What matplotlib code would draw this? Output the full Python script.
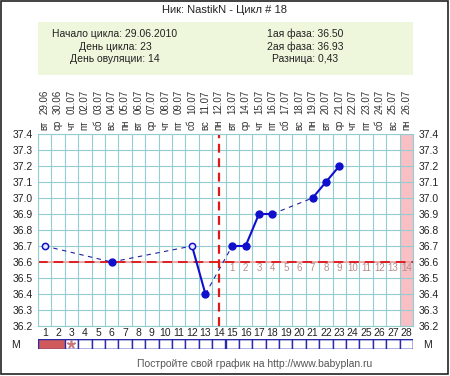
import matplotlib
matplotlib.use("Agg")
import matplotlib.pyplot as plt
from matplotlib.transforms import blended_transform_factory
from matplotlib.patches import Rectangle

plt.rcParams['font.family'] = ['Liberation Sans', 'DejaVu Sans']

title = "Ник: NastikN - Цикл # 18"
info_left = ["Начало цикла: 29.06.2010", "День цикла: 23", "День овуляции: 14"]
info_right = ["1ая фаза: 36.50", "2ая фаза: 36.93", "Разница: 0,43"]
footer = "Постройте свой график на http://www.babyplan.ru"

days = list(range(1, 29))
dates = ["29.06", "30.06", "01.07", "02.07", "03.07", "04.07", "05.07", "06.07",
         "07.07", "08.07", "09.07", "10.07", "11.07", "12.07", "13.07", "14.07",
         "15.07", "16.07", "17.07", "18.07", "19.07", "20.07", "21.07", "22.07",
         "23.07", "24.07", "25.07", "26.07"]
weekdays = ["вт", "ср", "чт", "пт", "сб", "вс", "пн"] * 4

temp_days = [1, 6, 12, 13, 15, 16, 17, 18, 21, 22, 23]
temps = [36.7, 36.6, 36.7, 36.4, 36.7, 36.7, 36.9, 36.9, 37.0, 37.1, 37.2]
open_days = [1, 12]

coverline = 36.6
ovulation_day = 14
highlight_day = 28
post_ov_days = list(range(15, 29))
post_ov_labels = [str(i) for i in range(1, 15)]

mens = [2, 2, 1] + [0] * 25  # 2 = bleeding, 1 = spotting (*), 0 = none

W, H = 450, 376
fig = plt.figure(figsize=(W / 100, H / 100), dpi=100)
fig.patch.set_facecolor('white')

def fx(px):
    return px / W

def fy(py):
    return 1 - py / H

# border
fig.add_artist(Rectangle((0.002, 0.004), 0.993, 0.994, transform=fig.transFigure,
                         fill=False, edgecolor='#222222', lw=1.2))

# title
fig.text(0.5, fy(10), title, ha='center', va='center', fontsize=8, color='#222222')

# info box
fig.add_artist(Rectangle((fx(38), fy(75)), fx(413) - fx(38), fy(22) - fy(75),
                         transform=fig.transFigure, facecolor='#eef6dc', edgecolor='none'))
for i, (l, r) in enumerate(zip(info_left, info_right)):
    yy = fy(34 + i * 12.5)
    fig.text(fx(115), yy, l, ha='center', va='center', fontsize=7.5, color='#222222')
    fig.text(fx(305), yy, r, ha='center', va='center', fontsize=7.5, color='#222222')

# main axes
L, R, T, B = 38, 413, 134, 326
ax = fig.add_axes([fx(L), fy(B), fx(R) - fx(L), fy(T) - fy(B)])
ax.set_xlim(0.5, 28.5)
ax.set_ylim(36.2, 37.4)
grid_c = '#94ccd4'
for d in range(0, 29):
    ax.axvline(d + 0.5, color=grid_c, lw=0.8, zorder=1)
yt = [round(36.2 + 0.1 * i, 1) for i in range(13)]
for y in yt:
    ax.axhline(y, color=grid_c, lw=0.8, zorder=1)
for s in ax.spines.values():
    s.set_color(grid_c)
ax.axvspan(highlight_day - 0.5, highlight_day + 0.5, color='#f8c0c4', zorder=0.5, lw=0)

ax.set_xticks([])
ax.set_yticks(yt)
ax.set_yticklabels([f"{y:.1f}" for y in yt], fontsize=7.5, color='#222222')
ax.tick_params(axis='y', length=0, pad=4, labelright=True, labelleft=True)

# coverline
ax.axhline(coverline, color='#f2a0a0', lw=1.2, zorder=2)
ax.axhline(coverline, color='#dd2020', lw=1.4, ls=(0, (5, 3)), zorder=2.1)
# ovulation line
ax.axvline(ovulation_day, color='#e01818', lw=1.6, ls=(0, (4, 2.5)), zorder=2.2)

# post ovulation numbers
for d, lab in zip(post_ov_days, post_ov_labels):
    ax.text(d, 36.563, lab, ha='center', va='center', fontsize=7, color='#b88a8a', zorder=3)

# temperature lines
blue = '#1010cc'
for (d0, t0), (d1, t1) in zip(zip(temp_days[:-1], temps[:-1]), zip(temp_days[1:], temps[1:])):
    if d1 - d0 == 1:
        ax.plot([d0, d1], [t0, t1], color=blue, lw=1.5, zorder=4)
    else:
        ax.plot([d0, d1], [t0, t1], color='#2020a0', lw=0.8, ls=(0, (4, 4)), zorder=4)
for d, t in zip(temp_days, temps):
    if d in open_days:
        ax.plot(d, t, 'o', ms=4.5, mfc='#e8e8ff', mec=blue, mew=1.1, zorder=5)
    else:
        ax.plot(d, t, 'o', ms=5, mfc=blue, mec=blue, zorder=5)

trans = blended_transform_factory(ax.transData, fig.transFigure)
for d, ds, wd in zip(days, dates, weekdays):
    ax.text(d, fy(114), ds, rotation=90, ha='center', va='bottom', fontsize=7,
            color='#333333', transform=trans, clip_on=False)
    ax.text(d, fy(130), wd, rotation=90, ha='center', va='bottom', fontsize=7,
            color='#333333', transform=trans, clip_on=False)
    ax.text(d, fy(333), str(d), ha='center', va='center', fontsize=7.5,
            color='#222222', transform=trans, clip_on=False)

# menstruation row
ax2 = fig.add_axes([fx(L), fy(349), fx(R) - fx(L), fy(339) - fy(349)])
ax2.set_xlim(0.5, 28.5)
ax2.set_ylim(0, 1)
ax2.axis('off')
for d, m in zip(days, mens):
    if m == 2:
        ax2.add_patch(Rectangle((d - 0.5, 0), 1, 1, facecolor='#d05a5a', edgecolor='#d05a5a', lw=0.8))
    else:
        ax2.add_patch(Rectangle((d - 0.5, 0), 1, 1, facecolor='white', edgecolor='#2a2aa8', lw=1.0))
        if m == 1:
            ax2.plot(d, 0.5, marker=(5, 2, 0), ms=6, color='#c87878', mew=1.2)
ax2.add_patch(Rectangle((0.5, 0), 28, 1, fill=False, edgecolor='#2a2aa8', lw=1.0))

fig.text(fx(15), fy(345), "М", ha='center', va='center', fontsize=7.5, color='#222222')
fig.text(fx(428), fy(345), "М", ha='center', va='center', fontsize=7.5, color='#222222')

fig.text(fx(255), fy(364), footer, ha='center', va='center', fontsize=7.5, color='#555555')

fig.savefig("out.png", dpi=100, facecolor='white')
